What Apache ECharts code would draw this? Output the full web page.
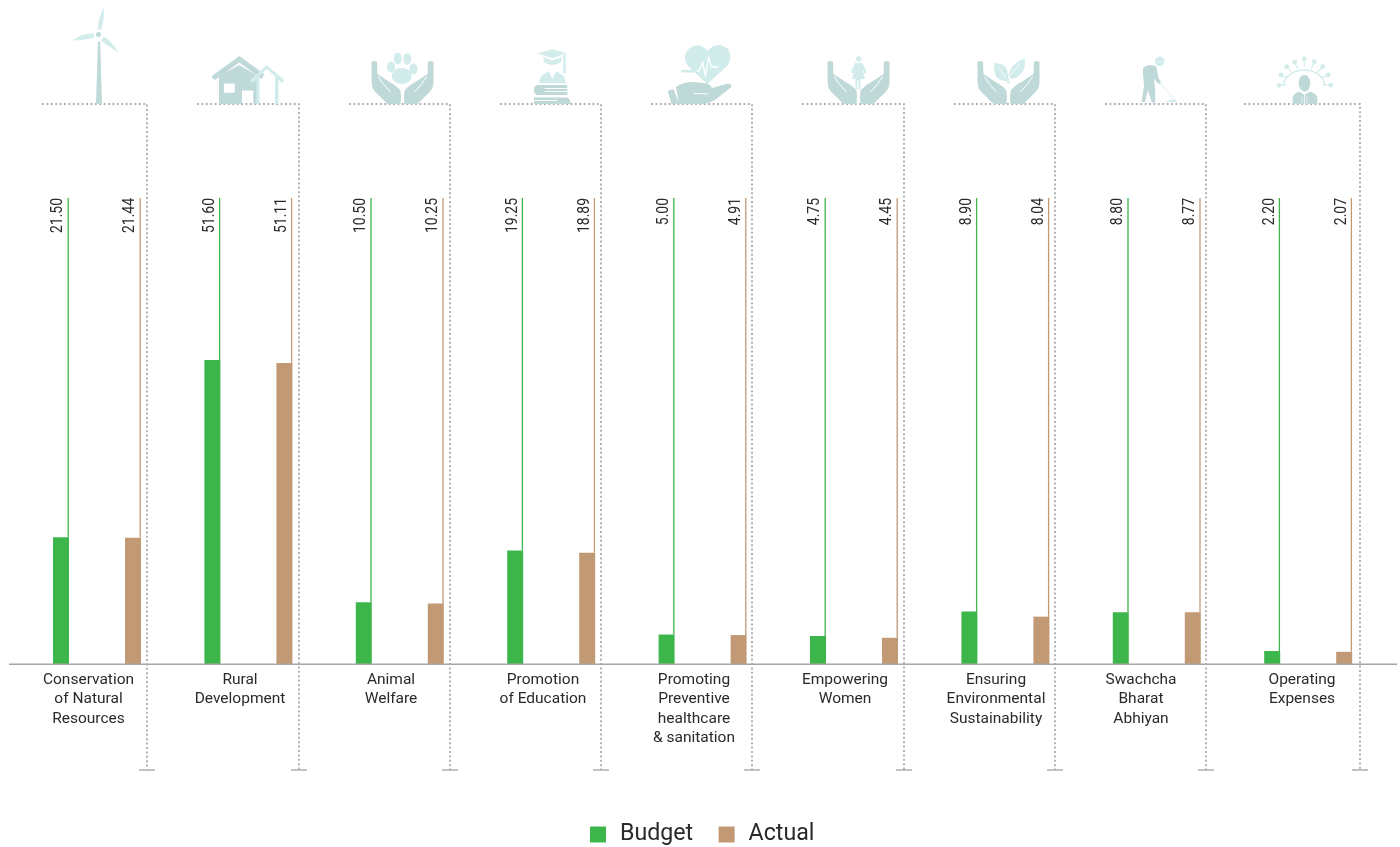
<!DOCTYPE html>
<html><head><meta charset="utf-8">
<style>html,body{margin:0;padding:0;background:#fff}#c{width:1400px;height:847px}</style>
<script src="https://cdn.jsdelivr.net/npm/echarts@6/dist/echarts.min.js"></script>
</head><body><div id="c"></div>
<script>
const categories = ['Conservation\nof Natural\nResources','Rural\nDevelopment','Animal\nWelfare','Promotion\nof Education','Promoting\nPreventive\nhealthcare\n& sanitation','Empowering\nWomen','Ensuring\nEnvironmental\nSustainability','Swachcha\nBharat\nAbhiyan','Operating\nExpenses'];
const budget = [21.50,51.60,10.50,19.25,5.00,4.75,8.90,8.80,2.20];
const actual = [21.44,51.11,10.25,18.89,4.91,4.45,8.04,8.77,2.07];

const GREEN='#3cb64b', TAN='#c19a75', DARK='#bfd8d8', LIGHT='#d2ecec', DOT='#999999', TXT='#2a2a2a';
const FONT='Roboto, "Noto Sans", sans-serif';
const YMAX=79.1;

function leader(color, shift){
  return function(params, api){
    const p=api.coord([api.value(0),api.value(1)]);
    const t=api.coord([api.value(0),YMAX]);
    const x=p[0]+shift+7.2;
    return {type:'group',children:[
      {type:'line',shape:{x1:x,y1:t[1],x2:x,y2:p[1]},style:{stroke:color,lineWidth:1.3}},
      {type:'text',x:x-10,y:t[1],rotation:Math.PI/2,scaleX:0.82,
        style:{text:api.value(1).toFixed(2),x:0,y:0,align:'right',verticalAlign:'middle',fill:TXT,font:'400 17px '+FONT}}
    ]};
  };
}

/* ---- decoration: dotted brackets ---- */
const bracketStart=[42,197,349,500,651,802,954,1105,1244];
const bracketEnd=[147,299,450,601,752,904,1055,1206,1360];
const deco=[];
bracketStart.forEach((s,i)=>{
  const e=bracketEnd[i];
  deco.push({type:'polyline',silent:true,z:1,shape:{points:[[s,104],[e,104],[e,770]]},style:{fill:null,stroke:DOT,lineWidth:1.5,lineDash:[2,2.4]}});
  deco.push({type:'line',silent:true,z:1,shape:{x1:e-8,y1:770,x2:e+8,y2:770},style:{stroke:'#aaaaaa',lineWidth:1.4}});
});
deco.push({type:'line',silent:true,z:3,shape:{x1:9,y1:664.3,x2:1397,y2:664.3},style:{stroke:'#a6a6a6',lineWidth:1.4}});

/* ---- decoration: icons ---- */
const iconEls=[];
const ell=(cx,cy,rx,ry)=>`M${cx-rx} ${cy}A${rx} ${ry} 0 1 0 ${cx+rx} ${cy}A${rx} ${ry} 0 1 0 ${cx-rx} ${cy}Z`;
const icon=(d,fill)=>iconEls.push({type:'path',silent:true,shape:{pathData:d},style:{fill:fill}});
const wline=(d,w,c)=>iconEls.push({type:'path',silent:true,shape:{pathData:d},style:{fill:'none',stroke:c||'#ffffff',lineWidth:w||1,lineCap:'round',lineJoin:'round'}});
function hands(cx){
  [-1,1].forEach(s=>{
    const X=v=>cx+s*v;
    icon(`M${X(31)} 62Q${X(28)} 60 ${X(25.5)} 62L${X(25)} 74L${X(13)} 82Q${X(5)} 86 ${X(2)} 91Q${X(1)} 97 ${X(2)} 104L${X(15)} 104L${X(17)} 102L${X(27)} 92Q${X(31)} 88 ${X(31)} 82Z`,DARK);
    wline(`M${X(24)} 77Q${X(20)} 84 ${X(12)} 92`,1);
  });
}
// wind turbine
icon('M96 104L102 104L100.2 41.5L98 41.5Z',DARK);
icon(ell(98.5,34.5,2.5,2.5),DARK);
icon('M97.5 29.5Q98.5 18 103.5 7.5Q104.5 20 101 30Z',LIGHT);
icon('M72 40.5Q82 33.5 93.5 33.5L94.5 37.5Q84 40.5 72 40.5Z',LIGHT);
icon('M118.5 52.5Q110 39 103.5 36.5L101.2 41Q108 46 118.5 52.5Z',LIGHT);
// houses
icon('M219 104L219 76L239.3 65L258 76L258 104L253.3 104L253.3 90.5L242 90.5L242 104Z M224 83.5L224 92.7L234.7 92.7L234.7 83.5Z',DARK);
icon('M212.5 75.5L239.3 56L264 74L262 79L239.3 62.5L215 80Q211 78 212.5 75.5Z',DARK);
icon('M250 80L266.7 65L284 80L282 83L278.5 80L278.5 104L275 104L275 76L266.7 69L259.5 76L259.5 104L256.5 104L256.5 80L252 83Z',LIGHT);
// paw
hands(402.5);
icon(ell(401.7,76,10,8)+ell(391,67,4,5.5)+ell(397.7,58.5,4,6)+ell(407.3,59,4,6)+ell(413.5,69,4,5.5),LIGHT);
// graduate
icon('M537.7 53.3L552.3 49.3L566.7 53.3L552.3 58.3Z M543 57L552.3 60.5L562 57L561 62Q552 68 544 62Z M563.2 55L565.7 54L565.7 73L563.2 73Z M539 83.3Q540 74 549 71.5L552.3 79L556 71.5Q565 74 566 83.3Z',LIGHT);
icon('M538 85L567.3 85L567.3 95L538 95Q534 95 534 90Q534 85 538 85Z M534 97.5L566 97.5Q570.7 98 570.7 104L534 104Z',DARK);
wline('M545 88.5L567 88.5M545 91.5L567 91.5M534 100.5L557 100.5',0.9);
// heart & hand
icon('M707.3 84L689 67Q685 62 685 57Q686 47 696 45.5Q703 45 707.5 51Q712 45 719 45Q730 46 730.5 57Q730 63 726 67Z M681 71Q681 69.5 683 70L700 70L700 72.5L683 72.5Q681 72.5 681 71Z',LIGHT);
wline('M697 71L699 71L702.5 62L705.5 76L708.5 57L711.5 67L718 67',1.3);
icon('M676 87Q683 82 693 82L704 83Q711 84 712 88L728 83.5Q732 84 731.5 87L715 100Q706 105 697 104L679 104Z',DARK);
icon('M667.7 91L673.3 89L679.3 103.3L671.7 104.3Z',DARK);
wline('M694 93.5L708 94',1);
// woman
hands(858.5);
icon(ell(858.7,59,2.8,2.8)+'M855 63L862.5 63L866.5 72L865 74L862.5 69L865 79L860.5 79L860.5 89.5L858.5 89.5L858.5 80L857.3 80L857.3 89.5L855.5 89.5L855.5 79L852 79L854.8 69L852.5 74L851 72Z',LIGHT);
// plant
hands(1008.5);
icon('M994 63Q1007 63 1008 74Q1008.5 79 1007 81Q996 81 994.5 72Z M1025 58.5Q1026 72 1017 77.5Q1011 80 1009 77Q1009 64 1025 58.5Z M1007 78L1009 78L1009.5 84L1007.5 84Z',LIGHT);
wline('M999 68Q1003 73 1006 78M1020 64Q1014 70 1010 76',0.8);
// sweeper
icon(ell(1159.7,61.3,4.8,4.8),LIGHT);
icon('M1143 68Q1147 64 1154 65.5Q1157 66 1157 70L1158.5 78L1161 82L1159 84L1154 79L1155 88L1155.5 102L1152 103L1148 90L1145 102L1141.5 102L1144 86L1143 74Z',DARK);
wline('M1160 83L1175 100',0.9,LIGHT);
icon('M1165 102L1170 100L1174.5 99.5L1177.5 102Z',LIGHT);
// doctor
const docC=[1304.2,85];
const docDots=[[1279,85.3],[1281,75],[1286.7,66.7],[1294.7,62],[1304.3,59],[1314.3,61.7],[1322.7,66.7],[1328.3,75],[1330.7,85]];
wline('M1283.3 85A21 17 0 0 1 1325 85',1.4,LIGHT);
wline(docDots.map(d=>`M${d[0]} ${d[1]}L${docC[0]+(d[0]-docC[0])*0.72} ${docC[1]+(d[1]-docC[1])*0.72}`).join(''),1.2,LIGHT);
icon(docDots.map(d=>ell(d[0],d[1],2.4,2.4)).join(''),LIGHT);
icon(ell(1304.5,83.3,5.8,8.4)+'M1292.7 104L1292.7 97Q1294 93 1299.5 91.5L1304.5 95L1309.5 91.5Q1316 93 1317.3 97L1317.3 104Z',DARK);
wline('M1304.5 95L1304.5 104M1302 97L1302 103M1307 97L1307 103',0.7);

/* per-label horizontal nudge: labels sit left of the bar-pair centre */
const labelNudge=[17,16.8,17.6,16.4,17.2,18,18.8,31.6,12.4];
const chart=echarts.init(document.getElementById('c'),null,{renderer:'canvas'});
chart.setOption({
  animation:false,
  backgroundColor:'#fff',
  grid:{left:21.3,top:198,width:1362.6,height:466,containLabel:false},
  legend:{data:['Budget','Actual'],left:590,top:823,padding:0,icon:'rect',itemWidth:16,itemHeight:16,itemGap:25.4,
    textStyle:{fontFamily:FONT,fontSize:23.2,color:TXT,padding:[0,0,0,9]}},
  xAxis:{type:'category',data:categories.map((c,i)=>({value:c,textStyle:{padding:[0,labelNudge[i],0,0]}})),
    axisLine:{show:false},axisTick:{show:false},
    axisLabel:{interval:0,margin:6,fontFamily:FONT,fontSize:15.5,lineHeight:19.5,color:TXT,align:'center'}},
  yAxis:{type:'value',min:0,max:YMAX,show:false,splitLine:{show:false}},
  series:[
    {name:'Budget',type:'bar',data:budget,barWidth:16,barGap:'350%',itemStyle:{color:GREEN},z:2},
    {name:'Actual',type:'bar',data:actual,barWidth:16,itemStyle:{color:TAN},z:2},
    {name:'Budget labels',type:'custom',coordinateSystem:'cartesian2d',clip:false,z:2,encode:{x:0,y:1},
      data:budget.map((v,i)=>[i,v]),renderItem:leader(GREEN,-36)},
    {name:'Actual labels',type:'custom',coordinateSystem:'cartesian2d',clip:false,z:2,encode:{x:0,y:1},
      data:actual.map((v,i)=>[i,v]),renderItem:leader(TAN,36)},
    {name:'Icons',type:'custom',coordinateSystem:'none',silent:true,z:4,data:[0],
      renderItem:function(){return {type:'group',children:iconEls};}}
  ],
  graphic:deco
});
</script></body></html>
